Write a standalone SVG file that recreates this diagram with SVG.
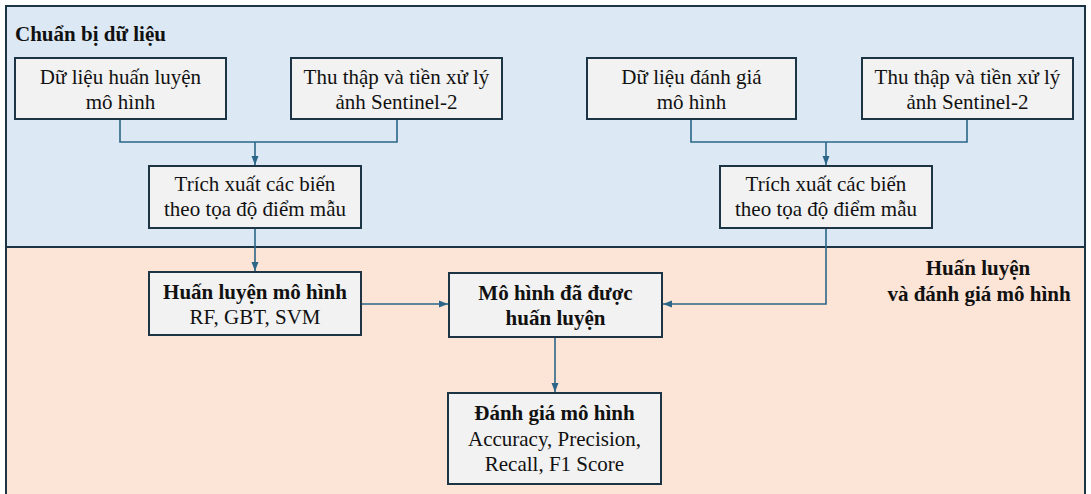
<svg xmlns="http://www.w3.org/2000/svg" width="1091" height="494" viewBox="0 0 1091 494">
<style>
.box{fill:#f2f2f2;stroke:#1d3445;stroke-width:2}
.t{font-family:"Liberation Serif","Times New Roman",serif;font-size:21px;fill:#111;text-anchor:middle}
.b{font-weight:bold}
.c{fill:none;stroke:#2b6688;stroke-width:1.6}
</style>
<defs>
<marker id="ah" markerWidth="10" markerHeight="10" refX="9" refY="5" orient="auto" markerUnits="userSpaceOnUse">
<path d="M0,1.5 L9,5 L0,8.5 Z" fill="#2b6688"/>
</marker>
</defs>
<g id="panels">
<rect x="6" y="6" width="1079" height="241" fill="#dce9f5" stroke="#1d3445" stroke-width="2"/>
<rect x="6" y="247" width="1079" height="250" fill="#fce4d6" stroke="#1d3445" stroke-width="2"/>
<text x="15" y="41" class="t b" style="text-anchor:start">Chuẩn bị dữ liệu</text>
<text class="t b"><tspan x="978" y="275">Huấn luyện</tspan><tspan x="979" y="301">và đánh giá mô hình</tspan></text>
</g>
<g id="connectors">
<path class="c" d="M120,119 V142 H397 V119"/>
<path class="c" d="M255,142 V165" marker-end="url(#ah)"/>
<path class="c" d="M691,119 V142 H967 V119"/>
<path class="c" d="M826,142 V165" marker-end="url(#ah)"/>
<path class="c" d="M255,228 V271" marker-end="url(#ah)"/>
<path class="c" d="M361,304 H448" marker-end="url(#ah)"/>
<path class="c" d="M826,228 V304 H663" marker-end="url(#ah)"/>
<path class="c" d="M555,337 V392" marker-end="url(#ah)"/>
</g>
<g id="n1"><rect class="box" x="15" y="58" width="211" height="61"/><text class="t"><tspan x="120.5" y="84">Dữ liệu huấn luyện</tspan><tspan x="120.5" y="109">mô hình</tspan></text></g>
<g id="n2"><rect class="box" x="291" y="58" width="211" height="61"/><text class="t"><tspan x="396.5" y="84">Thu thập và tiền xử lý</tspan><tspan x="396.5" y="109">ảnh Sentinel-2</tspan></text></g>
<g id="n3"><rect class="box" x="587" y="58" width="209" height="61"/><text class="t"><tspan x="691.5" y="84">Dữ liệu đánh giá</tspan><tspan x="691.5" y="109">mô hình</tspan></text></g>
<g id="n4"><rect class="box" x="862" y="58" width="211" height="61"/><text class="t"><tspan x="967.5" y="84">Thu thập và tiền xử lý</tspan><tspan x="967.5" y="109">ảnh Sentinel-2</tspan></text></g>
<g id="n5"><rect class="box" x="149" y="166" width="212" height="62"/><text class="t"><tspan x="255" y="191">Trích xuất các biến</tspan><tspan x="255" y="216">theo tọa độ điểm mẫu</tspan></text></g>
<g id="n6"><rect class="box" x="720" y="166" width="212" height="62"/><text class="t"><tspan x="826" y="191">Trích xuất các biến</tspan><tspan x="826" y="216">theo tọa độ điểm mẫu</tspan></text></g>
<g id="n7"><rect class="box" x="149" y="272" width="212" height="63"/><text class="t"><tspan x="255" y="299" class="b">Huấn luyện mô hình</tspan><tspan x="255" y="324">RF, GBT, SVM</tspan></text></g>
<g id="n8"><rect class="box" x="449" y="273" width="213" height="64"/><text class="t b"><tspan x="555.5" y="300">Mô hình đã được</tspan><tspan x="555.5" y="325">huấn luyện</tspan></text></g>
<g id="n9"><rect class="box" x="448" y="393" width="213" height="91"/><text class="t"><tspan x="554.5" y="420" class="b">Đánh giá mô hình</tspan><tspan x="554.5" y="446">Accuracy, Precision,</tspan><tspan x="554.5" y="471">Recall, F1 Score</tspan></text></g>
</svg>
